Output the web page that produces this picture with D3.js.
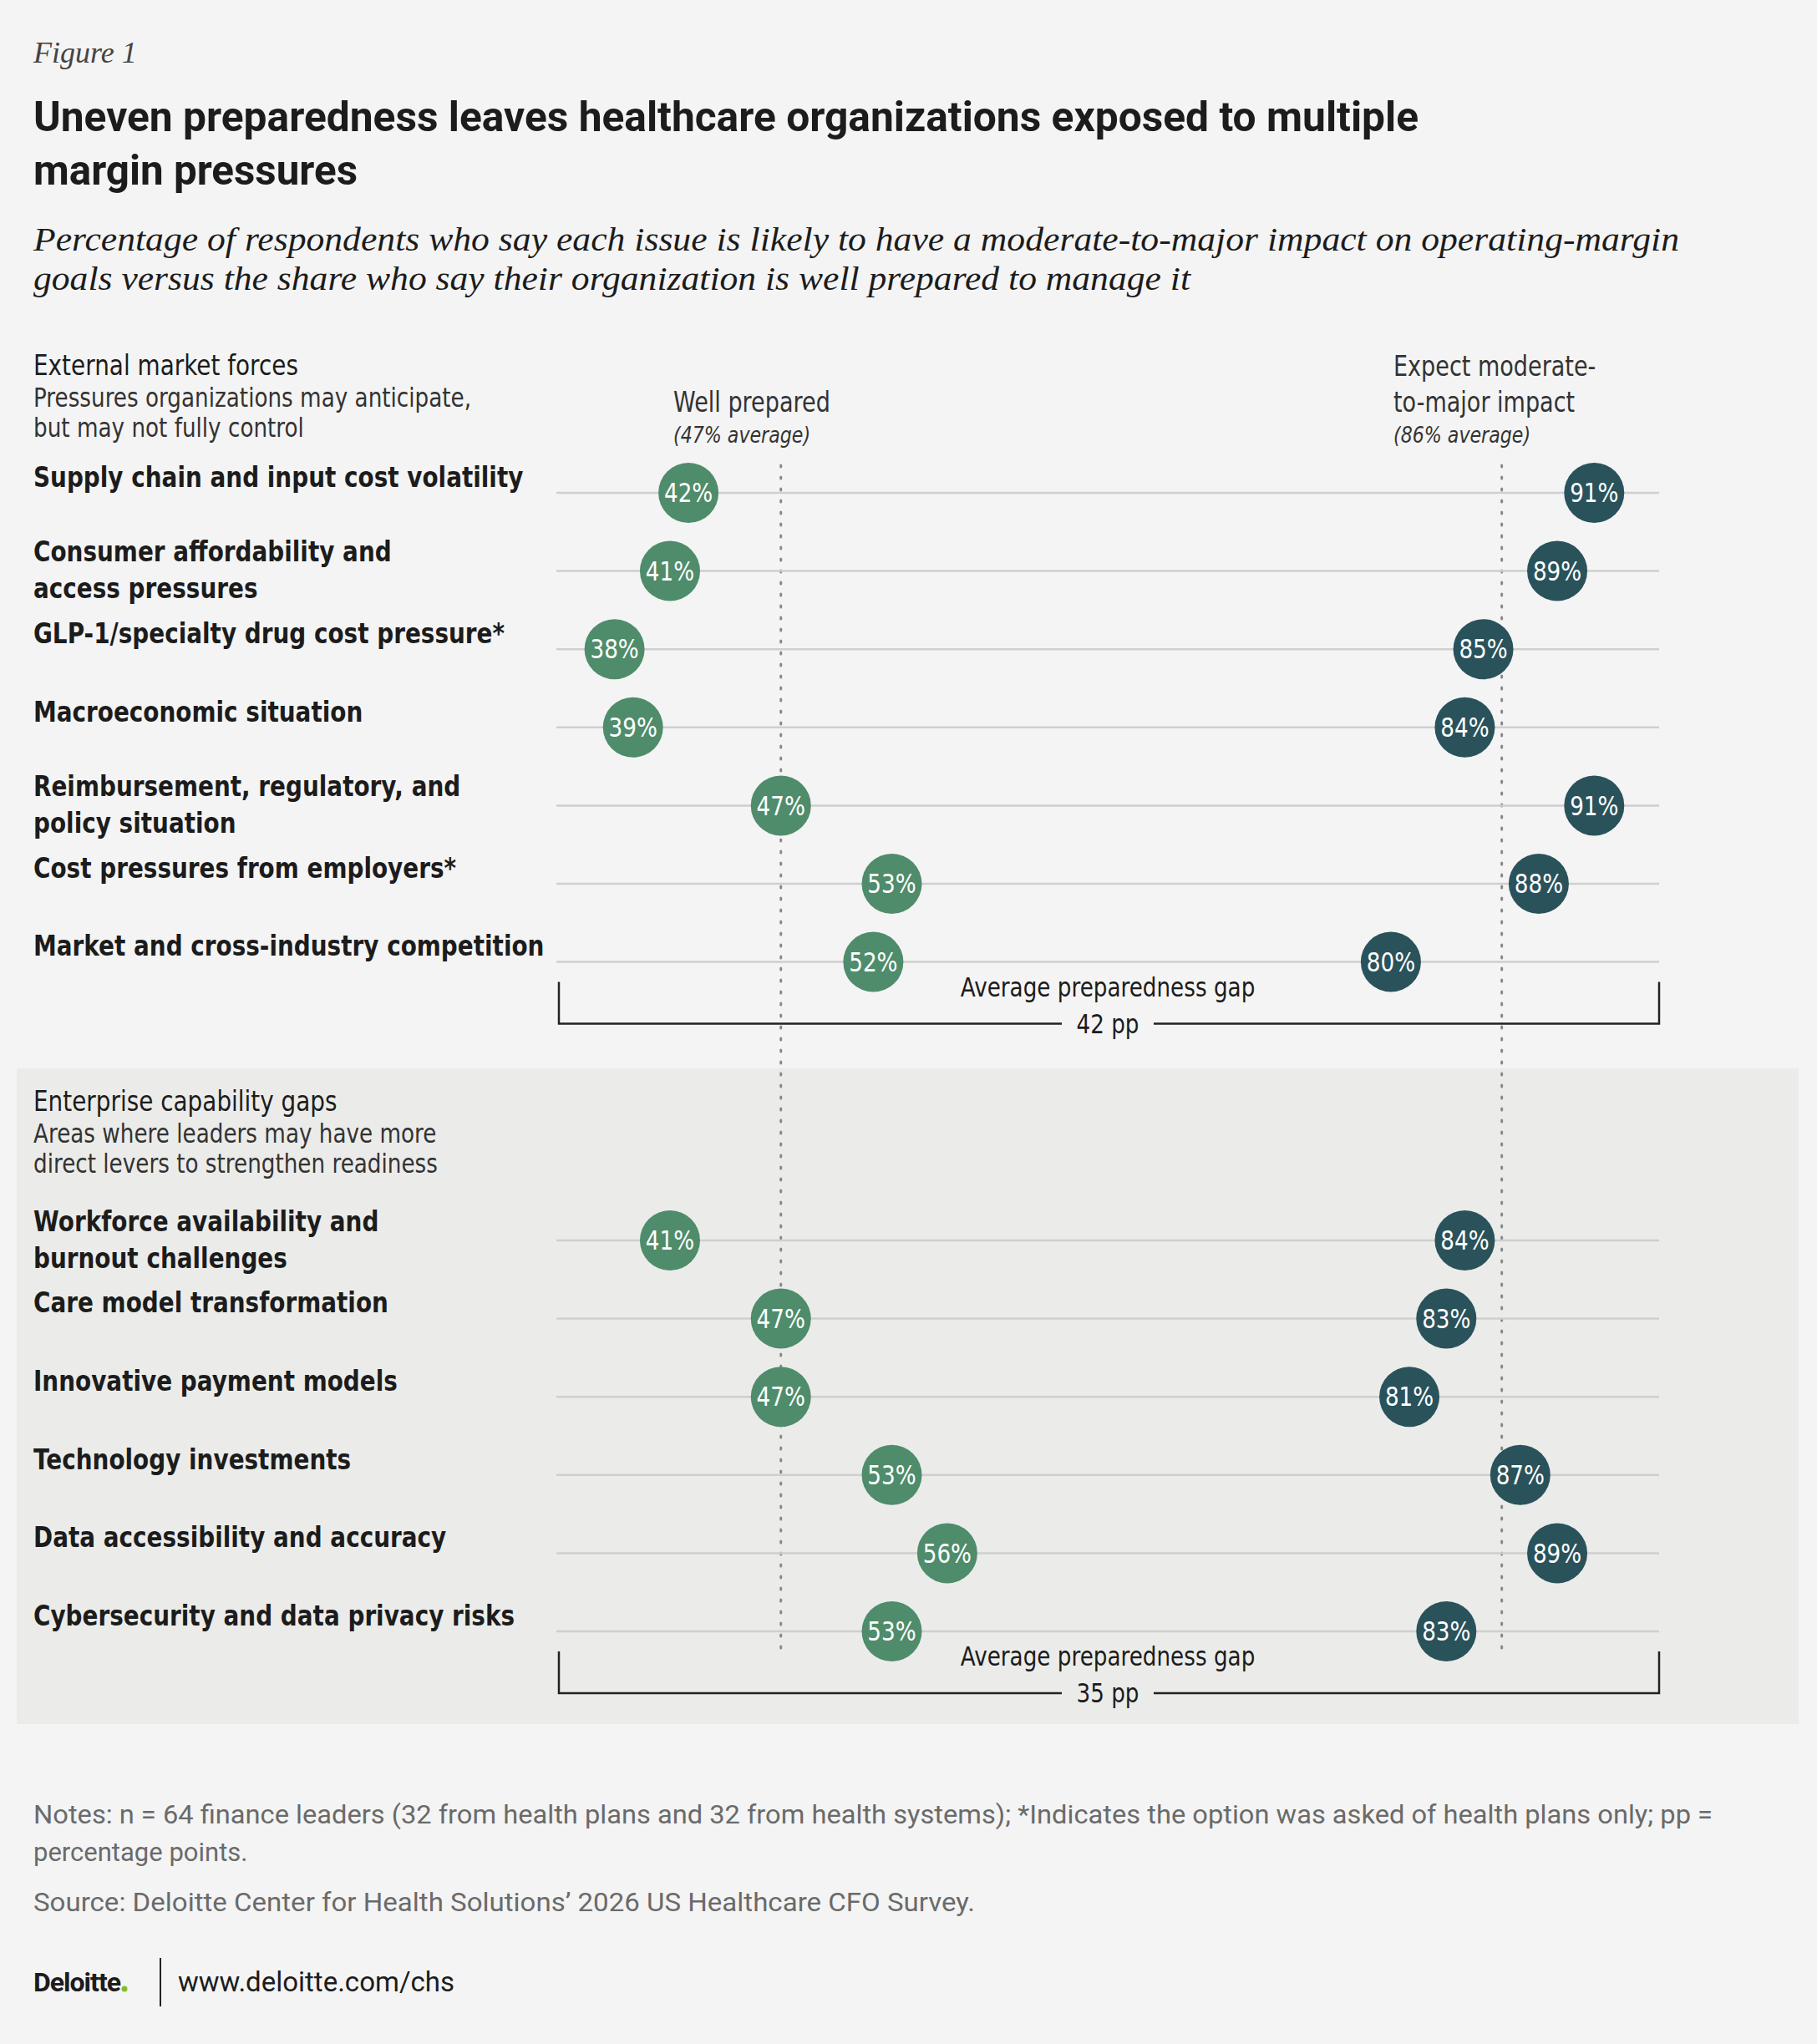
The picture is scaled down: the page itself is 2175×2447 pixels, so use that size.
<!DOCTYPE html>
<html><head><meta charset="utf-8">
<script src="https://cdn.jsdelivr.net/npm/d3@7"></script>
<style>body{margin:0;background:#f4f4f4}</style>
</head><body>
<script>
const externalLabels = [["Supply chain and input cost volatility"],["Consumer affordability and","access pressures"],["GLP-1/specialty drug cost pressure*"],["Macroeconomic situation"],["Reimbursement, regulatory, and","policy situation"],["Cost pressures from employers*"],["Market and cross-industry competition"]];
const externalPrepared = [42,41,38,39,47,53,52];
const externalImpact = [91,89,85,84,91,88,80];
const enterpriseLabels = [["Workforce availability and","burnout challenges"],["Care model transformation"],["Innovative payment models"],["Technology investments"],["Data accessibility and accuracy"],["Cybersecurity and data privacy risks"]];
const enterprisePrepared = [41,47,47,53,56,53];
const enterpriseImpact = [84,83,81,87,89,83];
const averages = {prepared:47, impact:86};
const gaps = ["42 pp","35 pp"];

const W=2175,H=2447;
const NARROW='"DejaVu Sans",sans-serif';
const SERIF='"Liberation Serif","DejaVu Serif",serif';
const GREEN="#4f8c6b", TEAL="#2a525b", TXT="#1c1c1c";
const svg=d3.select("body").append("svg").attr("width",W).attr("height",H);
svg.append("rect").attr("width",W).attr("height",H).attr("fill","#f4f4f4");
svg.append("rect").attr("x",20).attr("y",1279).attr("width",2133).attr("height",785).attr("fill","#ebecea");

const x=d3.scaleLinear().domain([38,91]).range([735.6,1908.3]);
const lineX0=666, lineX1=1986;

function txt(t,xx,yy,o={}){
  const ff=o.ff||NARROW;
  const el=svg.append("text").text(t)
   .attr("font-family",ff).attr("font-size",o.fs||33)
   .attr("font-weight",o.fw||"normal").attr("font-style",o.st||"normal")
   .attr("fill",o.fill||TXT).attr("text-anchor",o.anchor||"start")
   .attr("dominant-baseline",o.db||"auto");
  if(ff===NARROW){ el.attr("transform",`translate(${xx},${yy}) scale(${o.sx||0.82},1)`); }
  else el.attr("x",xx).attr("y",yy);
  return el;
}
txt("Figure 1",40,75,{ff:SERIF,st:"italic",fs:36,fill:"#444"});
txt("Uneven preparedness leaves healthcare organizations exposed to multiple",40,157,{fs:50,fw:"bold",ff:'Roboto,sans-serif'}).attr("textLength",1658).attr("lengthAdjust","spacingAndGlyphs");
txt("margin pressures",40,221,{fs:50,fw:"bold",ff:'Roboto,sans-serif'}).attr("textLength",388).attr("lengthAdjust","spacingAndGlyphs");
txt("Percentage of respondents who say each issue is likely to have a moderate-to-major impact on operating-margin",40,300,{ff:SERIF,st:"italic",fs:40}).attr("textLength",1970).attr("lengthAdjust","spacingAndGlyphs");
txt("goals versus the share who say their organization is well prepared to manage it",40,347,{ff:SERIF,st:"italic",fs:40}).attr("textLength",1385).attr("lengthAdjust","spacingAndGlyphs");

[averages.prepared,averages.impact].forEach(v=>{
  svg.append("line").attr("x1",x(v)).attr("x2",x(v)).attr("y1",557).attr("y2",1980)
   .attr("stroke","#888").attr("stroke-width",3).attr("stroke-dasharray","2,12").attr("stroke-linecap","round");
});
txt("Well prepared",806,493,{fs:33,fill:"#333"});
txt("(47% average)",806,530,{fs:27,st:"italic",fill:"#333"});
txt("Expect moderate-",1668,450,{fs:33,fill:"#333"});
txt("to-major impact",1668,493,{fs:33,fill:"#333"});
txt("(86% average)",1668,530,{fs:27,st:"italic",fill:"#333"});

function section(labels,prep,imp,y0,title,sub,yTitle,gap,bg){
  txt(title,40,yTitle,{fs:34});
  sub.forEach((s,i)=>txt(s,40,yTitle+38+i*36,{fs:32,fill:"#333"}));
  const y=d3.scaleLinear().domain([0,1]).range([y0,y0+93.6]);
  labels.forEach((lab,i)=>{
    const yy=y(i);
    svg.append("line").attr("x1",lineX0).attr("x2",lineX1).attr("y1",yy).attr("y2",yy).attr("stroke","#cfcfcf").attr("stroke-width",2.5);
    if(lab.length===1) txt(lab[0],40,yy-17,{fs:34,fw:"bold",db:"middle"});
    else lab.forEach((l,j)=>txt(l,40,yy-21+j*44,{fs:34,fw:"bold",db:"middle"}));
    [[prep[i],GREEN],[imp[i],TEAL]].forEach(([v,c])=>{
      svg.append("circle").attr("cx",x(v)).attr("cy",yy).attr("r",36).attr("fill",c);
      txt(v+"%",x(v),yy+2,{fs:32,fill:"#fff",anchor:"middle",db:"middle"});
    });
  });
  const yb=y(labels.length-1)+74;
  svg.append("path").attr("d",`M${lineX0+3},${yb-50}V${yb}H${lineX1}V${yb-50}`).attr("fill","none").attr("stroke","#222").attr("stroke-width",2.5);
  const mid=(lineX0+lineX1)/2;
  svg.append("rect").attr("x",mid-55).attr("y",yb-20).attr("width",110).attr("height",40).attr("fill",bg);
  txt("Average preparedness gap",mid,yb-42,{fs:32,anchor:"middle",db:"middle"});
  txt(gap,mid,yb+2,{fs:32,anchor:"middle",db:"middle"});
}
section(externalLabels,externalPrepared,externalImpact,590,"External market forces",["Pressures organizations may anticipate,","but may not fully control"],449,gaps[0],"#f4f4f4");
section(enterpriseLabels,enterprisePrepared,enterpriseImpact,1485,"Enterprise capability gaps",["Areas where leaders may have more","direct levers to strengthen readiness"],1330,gaps[1],"#ebecea");

const NG="#6a6a6a";
txt("Notes: n = 64 finance leaders (32 from health plans and 32 from health systems); *Indicates the option was asked of health plans only; pp =",40,2183,{fs:31,fill:NG,ff:"Roboto,sans-serif"}).attr("textLength",2010).attr("lengthAdjust","spacingAndGlyphs");
txt("percentage points.",40,2228,{fs:31,fill:NG,ff:"Roboto,sans-serif"});
txt("Source: Deloitte Center for Health Solutions’ 2026 US Healthcare CFO Survey.",40,2288,{fs:31,fill:NG,ff:"Roboto,sans-serif"}).attr("textLength",1127).attr("lengthAdjust","spacingAndGlyphs");
const logo=txt("Deloitte",40,2384,{fs:32,fw:"bold",ff:"Roboto,sans-serif"}).attr("letter-spacing",-1);
const lw=logo.node().getComputedTextLength();
svg.append("circle").attr("cx",40+lw+5).attr("cy",2381).attr("r",3.5).attr("fill","#86bc25");
svg.append("line").attr("x1",192).attr("x2",192).attr("y1",2344).attr("y2",2402).attr("stroke","#222").attr("stroke-width",2);
txt("www.deloitte.com/chs",213,2384,{fs:33,ff:"Roboto,sans-serif"});
</script>
</body></html>
